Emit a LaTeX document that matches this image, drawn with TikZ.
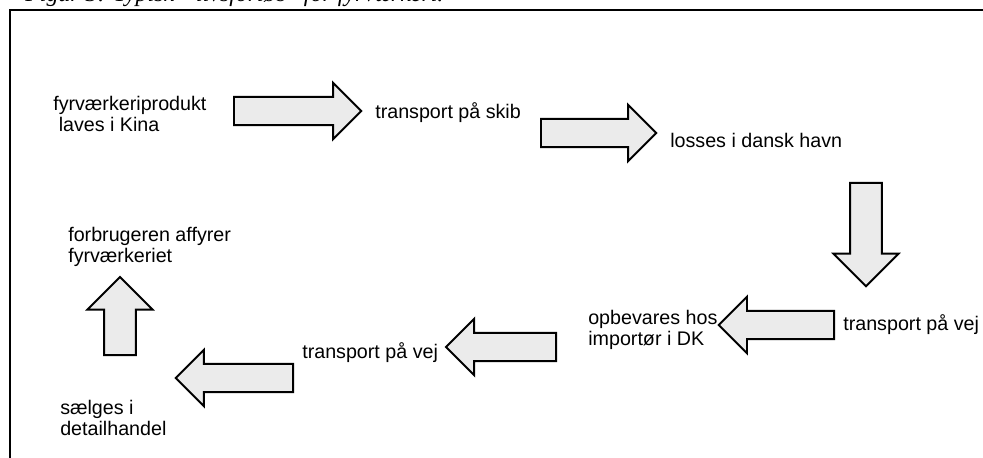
\documentclass[tikz,border=0pt]{standalone}
\usepackage{fontspec}
\setmainfont{Liberation Sans}
\newfontfamily\capfont{Liberation Serif}
\usetikzlibrary{shapes.arrows, positioning}

\tikzset{
  stage/.style={
    anchor=west, align=left, inner sep=0pt,
    font=\fontsize{14}{14.5}\selectfont
  },
  blockarr/.style={
    single arrow, draw=black, line width=1.4pt,
    fill=black!8, inner xsep=0pt, inner ysep=0.33cm,
    single arrow head extend=0.35cm,
    minimum height=#1, anchor=tail
  },
  bigarr/.style={
    inner ysep=0.37cm, single arrow head extend=0.42cm
  },
  framerule/.style={line width=1.1pt}
}

\begin{document}
\begin{tikzpicture}[x=0.025cm, y=-0.025cm]
  \useasboundingbox (0,0) rectangle (983,458);
  % caption, cut by the page edge
  \node[anchor=base west, inner sep=0pt,
        font=\capfont\itshape\fontsize{17}{20}\selectfont] (cap) at (25,2)
       {Figur 3: Typisk ``livsforløb'' for fyrværkeri.};
  \draw[framerule] (10,470) -- (10,10) -- (995,10);

  % stages
  \node[stage] (made)  at (53,114)  {fyrværkeriprodukt\\\ laves i Kina};
  \node[stage] (ship)  at (375,113) {transport på skib};
  \node[stage] (port)  at (670,140) {losses i dansk havn};
  \node[stage] (road1) at (843,325) {transport på vej};
  \node[stage] (store) at (588,330) {opbevares hos\\importør i DK};
  \node[stage] (road2) at (302,353) {transport på vej};
  \node[stage] (shop)  at (60,418)  {sælges i\\detailhandel};
  \node[stage] (fire)  at (68,247)  {forbrugeren affyrer\\fyrværkeriet};

  % block arrows between the stages (placed by their tails)
  \node[blockarr=3.18cm] (a1) at (233,111) {};
  \node[blockarr=2.88cm] (a2) at (540,133) {};
  \node[blockarr=2.58cm, bigarr, rotate=-90] (a3) at (866,182) {};
  \node[blockarr=2.88cm, rotate=180] (a4) at (835,325) {};
  \node[blockarr=2.75cm, rotate=180] (a5) at (557,347) {};
  \node[blockarr=2.93cm, rotate=180] (a6) at (294,378) {};
  \node[blockarr=1.95cm, bigarr, rotate=90] (a7) at (120,356) {};
\end{tikzpicture}
\end{document}
